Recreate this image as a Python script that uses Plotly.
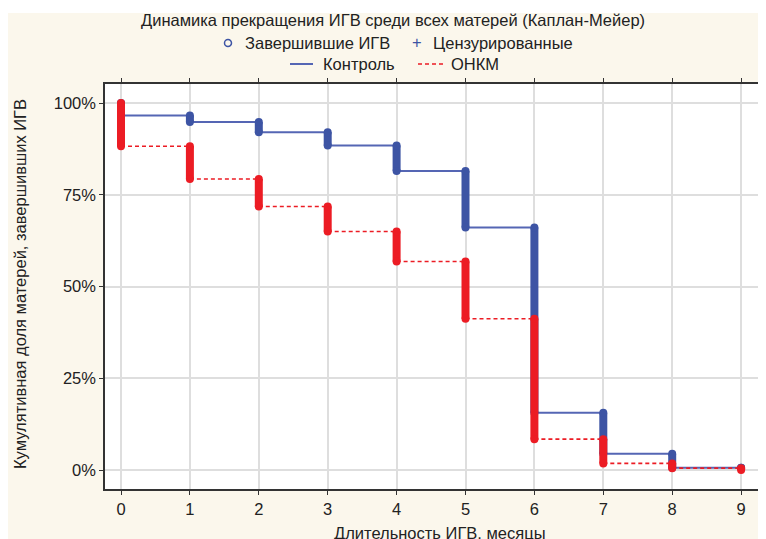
import plotly.graph_objects as go

# ---- data ----
months = [0, 1, 2, 3, 4, 5, 6, 7, 8, 9]
control = [96.6, 94.8, 92.0, 88.4, 81.5, 66.1, 15.6, 4.4, 0.6, 0.6]
onkm = [88.2, 79.3, 71.8, 65.0, 56.8, 41.2, 8.4, 1.8, 0.5, 0.0]
start_level = 100.0
y_ticks = [0, 25, 50, 75, 100]
y_ticktext = ["0%", "25%", "50%", "75%", "100%"]

title_text = "Динамика прекращения ИГВ среди всех матерей (Каплан-Мейер)"
leg_completed = "Завершившие ИГВ"
leg_censored = "Цензурированные"
leg_control = "Контроль"
leg_onkm = "ОНКМ"
x_title = "Длительность ИГВ, месяцы"
y_title = "Кумулятивная доля матерей, завершивших ИГВ"

# ---- styles ----
BLUE_BAR = "#3d54a4"
BLUE_LINE = "#5566b4"
RED = "#ec1c24"
CREAM = "#fbf7ec"
TXT = "#222222"
FONT = "Liberation Sans, Arial, sans-serif"
FS = 16.5

# page body has an 8px margin: figure is drawn at (8, 8) in the window
OFF = 8
W, H = 766 - OFF, 539 - OFF
ML, MR, MT, MB = 105 - OFF, 0, 84 - OFF, 539 - 489
PW = W - ML - MR
PH = H - MT - MB


def px(xp):  # window pixel -> paper x
    return (xp - OFF - ML) / PW


def py(yp):  # window pixel -> paper y
    return (H - MB - (yp - OFF)) / PH


def steps(levels):
    xs, ys = [], []
    for i in range(len(months) - 1):
        xs += [months[i], months[i + 1], None]
        ys += [levels[i], levels[i], None]
    return xs, ys


def bars(levels):
    xs, ys, mx, my = [], [], [], []
    prev = start_level
    for t, lv in zip(months, levels):
        xs += [t, t, None]
        ys += [prev, lv, None]
        mx += [t, t]
        my += [prev, lv]
        prev = lv
    return xs, ys, mx, my


fig = go.Figure()

# control (blue)
sx, sy = steps(control)
fig.add_trace(go.Scatter(x=sx, y=sy, mode="lines",
                         line=dict(color=BLUE_LINE, width=2), hoverinfo="skip"))
bx, by, mx, my = bars(control)
fig.add_trace(go.Scatter(x=bx, y=by, mode="lines",
                         line=dict(color=BLUE_BAR, width=8), hoverinfo="skip"))
fig.add_trace(go.Scatter(x=mx, y=my, mode="markers",
                         marker=dict(color=BLUE_BAR, size=8, line=dict(width=0)),
                         hoverinfo="skip"))

# ONKM (red)
sx, sy = steps(onkm)
fig.add_trace(go.Scatter(x=sx, y=sy, mode="lines",
                         line=dict(color=RED, width=1.6, dash="4px,3px"),
                         hoverinfo="skip"))
bx, by, mx, my = bars(onkm)
fig.add_trace(go.Scatter(x=bx, y=by, mode="lines",
                         line=dict(color=RED, width=8), hoverinfo="skip"))
fig.add_trace(go.Scatter(x=mx, y=my, mode="markers",
                         marker=dict(color=RED, size=8, line=dict(width=0)),
                         hoverinfo="skip"))

# data -> window pixel mapping
x0_px, x_step = 121.0, 68.9
y0_px, y_step = 470.0, 3.67
x_range = [(105 - x0_px) / x_step, (766 - x0_px) / x_step]
y_range = [(y0_px - 489) / y_step, (y0_px - 84) / y_step]

fig.update_layout(
    width=W, height=H,
    margin=dict(l=ML, r=MR, t=MT, b=MB, pad=0),
    paper_bgcolor=CREAM, plot_bgcolor="white",
    showlegend=False,
    font=dict(family=FONT, size=FS, color=TXT),
    xaxis=dict(range=x_range, tickvals=months, ticks="outside", ticklen=4,
               tickcolor="#333", showline=True, linecolor="#333", linewidth=1.5,
               mirror="ticks", showgrid=True, gridcolor="#dedede", gridwidth=1.5,
               zeroline=False, tickfont=dict(size=FS, color=TXT)),
    yaxis=dict(range=y_range, tickvals=y_ticks, ticktext=y_ticktext,
               ticks="outside", ticklen=4, tickcolor="#333", showline=True,
               linecolor="#333", linewidth=1.5, showgrid=True, gridcolor="#dedede",
               gridwidth=1.5, zeroline=False, tickfont=dict(size=FS, color=TXT)),
)

ann = []
shapes = []
# white strip at the top of the image
shapes.append(dict(type="rect", xref="paper", yref="paper", x0=px(0), x1=px(780),
                   y0=py(13), y1=py(0), fillcolor="white", line=dict(width=0),
                   layer="below"))


def label(text, x, y, anchor="left", color=TXT, angle=0, yanchor="middle"):
    ann.append(dict(text=text, x=px(x), y=py(y), xref="paper", yref="paper",
                    xanchor=anchor, yanchor=yanchor, showarrow=False,
                    textangle=angle, font=dict(size=FS, color=color)))


# title
label(title_text, 393, 20, anchor="center")
# legend row 1
shapes.append(dict(type="circle", xref="paper", yref="paper",
                   x0=px(224.5), x1=px(231.5), y0=py(46.5), y1=py(39.5),
                   line=dict(color=BLUE_BAR, width=1.5), fillcolor="rgba(0,0,0,0)"))
label(leg_completed, 243, 43)
label("+", 417, 42, anchor="center", color=BLUE_BAR)
label(leg_censored, 431, 43)
# legend row 2
shapes.append(dict(type="line", xref="paper", yref="paper",
                   x0=px(290), x1=px(313), y0=py(64), y1=py(64),
                   line=dict(color=BLUE_LINE, width=2)))
label(leg_control, 321, 64)
shapes.append(dict(type="line", xref="paper", yref="paper",
                   x0=px(418), x1=px(443), y0=py(64), y1=py(64),
                   line=dict(color=RED, width=1.6, dash="4px,3px")))
label(leg_onkm, 449, 64)
# axis titles
label(x_title, 440, 522, anchor="center", yanchor="top")
label(y_title, 20, 284, anchor="center", angle=-90)

fig.update_layout(annotations=ann, shapes=shapes)
fig.write_html("out.html")
